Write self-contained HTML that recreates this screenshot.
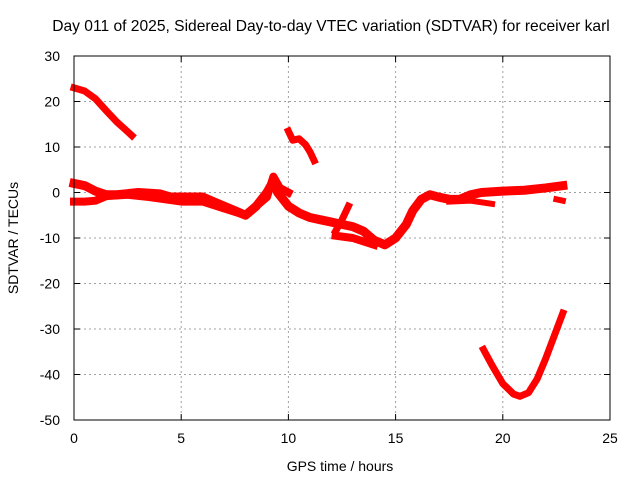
<!DOCTYPE html>
<html><head><meta charset="utf-8"><style>
body{margin:0;background:#fff;}
svg{display:block;font-family:"Liberation Sans",sans-serif;}
</style></head><body>
<svg id="chart" width="640" height="480">
<rect width="640" height="480" fill="#fff"/>
<text x="331" y="31" font-size="15.6" text-anchor="middle">Day 011 of 2025, Sidereal Day-to-day VTEC variation (SDTVAR) for receiver karl</text>
<g id="grid"></g><g id="series"></g><g id="axes"></g>
<text x="340" y="471" font-size="14" text-anchor="middle">GPS time / hours</text>
<text transform="translate(18,238) rotate(-90)" font-size="14" text-anchor="middle">SDTVAR / TECUs</text>
</svg>
<script>
const xTicks=[0,5,10,15,20,25];
const yTicks=[30,20,10,0,-10,-20,-30,-40,-50];
const seriesMorningHigh=[[0,23],[0.5,22.3],[1,20.6],[1.5,18],[2,15.5],[2.4,13.8],[2.7,12.5]];
const seriesNoonHigh=[[10,13.5],[10.2,11.5],[10.5,11.8],[10.8,10.5],[11,9],[11.2,7]];
const seriesEvening=[[19.1,-34.5],[19.5,-38],[20,-42],[20.5,-44.3],[20.8,-44.8],[21.2,-44],[21.6,-41],[22,-36.5],[22.4,-31.5],[22.8,-26.5]];
const seriesMainA=[[0,2],[0.5,1.5],[1,0.3],[1.5,-0.5],[2,-0.5],[3,0],[4,-0.3],[4.5,-1],[5,-1],[6,-1],[6.5,-2],[7,-3],[7.5,-4],[8,-5],[8.5,-3],[9,0],[9.3,2.5],[9.5,0],[10,-3],[10.5,-4.5],[11,-5.5],[11.5,-6],[12,-6.5],[12.5,-7],[13,-7.5],[13.5,-8.5],[14,-10.5],[14.5,-11.5],[15,-10],[15.5,-7],[15.8,-4],[16.2,-1.5],[16.6,-0.5],[17,-1],[17.5,-1.5],[18,-1.5],[18.5,-0.5],[19,0],[20,0.3],[21,0.5],[22,1],[22.8,1.5]];
const seriesMainB=[[0,-2],[0.5,-2],[1,-1.8],[1.5,-0.8],[2.5,-0.5],[3.5,-1],[5,-2],[6,-2],[7,-3.5],[8,-5],[9,-1],[9.3,3.5],[9.6,1],[10,0]];
const seriesBranch1=[[12.2,-8.5],[12.5,-6],[12.8,-3]];
const seriesBranch2=[[12.2,-9.5],[13,-10],[14,-11.5]];
const seriesBranch3=[[17.5,-2],[18.5,-1.8],[19.5,-2.5]];
const seriesBranch4=[[22.5,-1.5],[22.8,-1.8]];
const allSeries=[seriesMorningHigh,seriesNoonHigh,seriesEvening,seriesMainA,seriesMainB,seriesBranch1,seriesBranch2,seriesBranch3,seriesBranch4];
const widths=[7,7,7,9,8,7,8,6,6];
const X0=74,X1=610,Y0=56,Y1=420;
const sx=v=>X0+(v-0)/(25-0)*(X1-X0);
const sy=v=>Y0+(30-v)/(30-(-50))*(Y1-Y0);
const NS="http://www.w3.org/2000/svg";
const mk=(t,a,p)=>{const e=document.createElementNS(NS,t);for(const k in a)e.setAttribute(k,a[k]);p.appendChild(e);return e;};
const grid=document.getElementById('grid'),axes=document.getElementById('axes'),ser=document.getElementById('series');
xTicks.forEach(t=>{
 if(t>0&&t<25){const l=mk('line',{x1:sx(t),x2:sx(t),y1:Y0,y2:Y1,stroke:'#a0a0a0','stroke-dasharray':'2,3'},grid);
 
 }
 const tx=mk('text',{x:sx(t),y:443,'font-size':14,'text-anchor':'middle'},axes);tx.textContent=t;
 
 
 mk('line',{x1:sx(t),x2:sx(t),y1:Y1,y2:Y1-6,stroke:'#000'},axes);
 mk('line',{x1:sx(t),x2:sx(t),y1:Y0,y2:Y0+6,stroke:'#000'},axes);
});
yTicks.forEach(t=>{
 if(t<30&&t>-50){const l=mk('line',{x1:X0,x2:X1,y1:sy(t),y2:sy(t),stroke:'#a0a0a0','stroke-dasharray':'2,3'},grid);
 
 }
 const tx=mk('text',{x:60,y:sy(t)+5,'font-size':14,'text-anchor':'end'},axes);tx.textContent=t;
 
 
 mk('line',{x1:X0,x2:X0+6,y1:sy(t),y2:sy(t),stroke:'#000'},axes);
 mk('line',{x1:X1,x2:X1-6,y1:sy(t),y2:sy(t),stroke:'#000'},axes);
});
const fr=mk('rect',{x:X0,y:Y0,width:X1-X0,height:Y1-Y0,fill:'none',stroke:'#000'},axes);


allSeries.forEach((s,i)=>{
 const p=mk('polyline',{points:s.map(d=>sx(d[0])+','+sy(d[1])).join(' '),fill:'none',stroke:'#f00','stroke-width':widths[i],'stroke-linejoin':'round','stroke-linecap':'square'},ser);
 
 
});
</script>
</body></html>
